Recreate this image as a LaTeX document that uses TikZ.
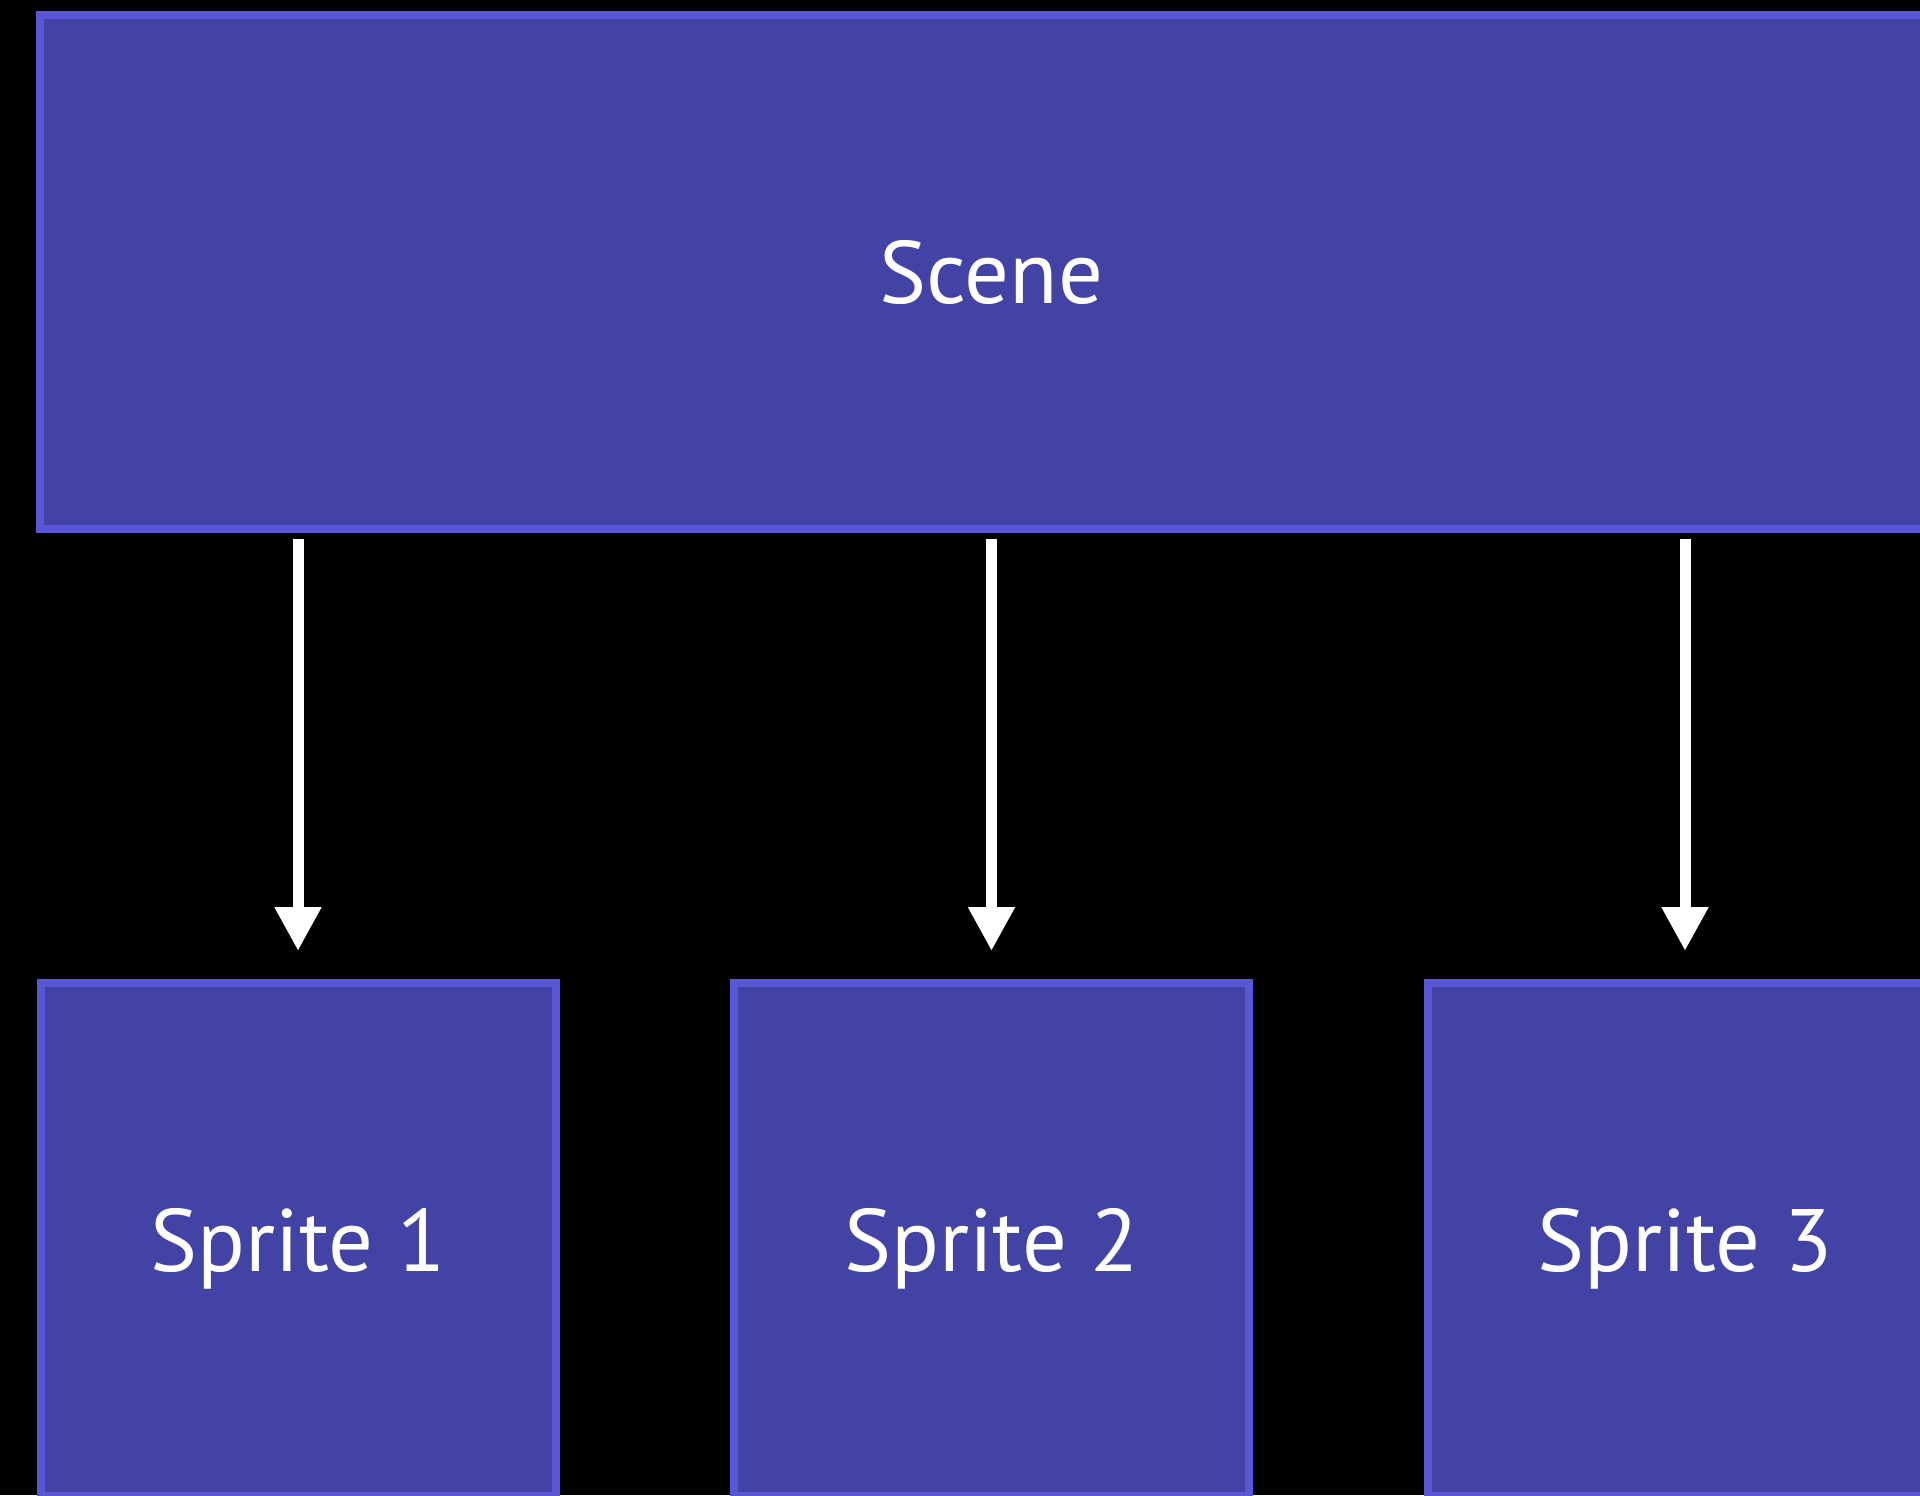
\documentclass[tikz,border=0pt]{standalone}
\usepackage{fontspec}
\setmainfont{PT Sans}
\usetikzlibrary{arrows.meta}
\definecolor{boxfill}{HTML}{4343A5}
\definecolor{boxline}{HTML}{5858D6}
\begin{document}
\begin{tikzpicture}[x=0.5pt,y=-0.5pt]
\tikzstyle{box}=[draw=boxline,fill=boxfill,line width=4pt,inner sep=0pt,
  text=white,text depth=0pt,font=\fontsize{44.3}{50}\selectfont]
\tikzstyle{flow}=[draw=white,line width=5.5pt,shorten <=3pt,shorten >=14pt,
  -{Triangle[width=22pt,length=22pt]}]
    \useasboundingbox (0,0) rectangle (1920,1495);
    \clip (0,0) rectangle (1920,1495);
    \fill [black] (0,0) rectangle (1920,1495);
    \node [box,minimum width=951.5pt,minimum height=257pt] (scene) at (991.5,272) {Scene};
    \node [box,minimum width=257.5pt,minimum height=256.5pt] (s1) at (298,1239.5) {Sprite 1};
    \node [box,minimum width=257.5pt,minimum height=256.5pt] (s2) at (991.5,1239.5) {Sprite 2};
    \node [box,minimum width=257.5pt,minimum height=256.5pt] (s3) at (1685,1239.5) {Sprite 3};
    \draw [flow] (s1.north |- scene.south) to (s1.north);
    \draw [flow] (s2.north |- scene.south) to (s2.north);
    \draw [flow] (s3.north |- scene.south) to (s3.north);
\end{tikzpicture}
\end{document}
